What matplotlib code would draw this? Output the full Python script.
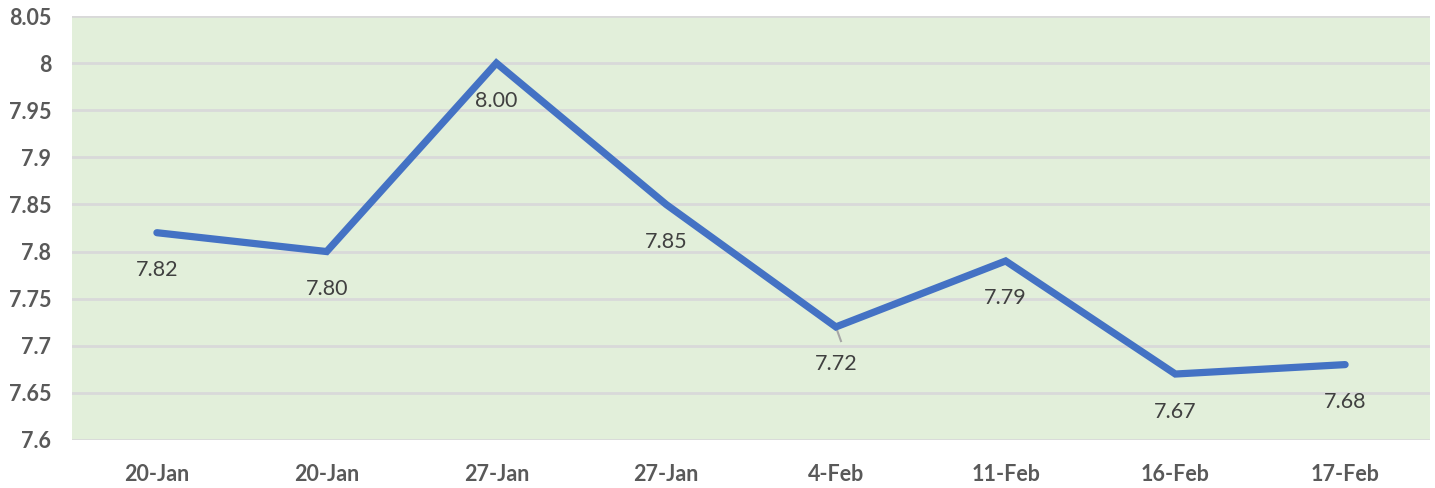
import numpy as np
import matplotlib.pyplot as plt

dates = ['20-Jan', '20-Jan', '27-Jan', '27-Jan', '4-Feb', '11-Feb', '16-Feb', '17-Feb']
values = [7.82, 7.80, 8.00, 7.85, 7.72, 7.79, 7.67, 7.68]
yticks = [7.6, 7.65, 7.7, 7.75, 7.8, 7.85, 7.9, 7.95, 8, 8.05]
ytick_labels = ['7.6', '7.65', '7.7', '7.75', '7.8', '7.85', '7.9', '7.95', '8', '8.05']

plt.rcParams['font.family'] = ['Lato', 'DejaVu Sans']

fig = plt.figure(figsize=(14.35, 4.88), dpi=100)
ax = fig.add_axes([0.0502, 0.0984, 0.9463, 0.8688])
ax.set_facecolor('#E2EFDA')

x = np.arange(len(values))
ax.plot(x, values, color='#4472C4', lw=5.2, solid_capstyle='round', solid_joinstyle='miter', zorder=3)

for xi, v in zip(x, values):
    ax.annotate('%.2f' % v, (xi, v), xytext=(0, -27), textcoords='offset points',
                ha='center', va='center', fontsize=15.5, color='#404040', zorder=4)

# small leader line at the 4-Feb label
ax.plot([4, 4.03], [values[4], values[4] - 0.015], color='#A6A6A6', lw=1.5, zorder=2)

ax.set_xlim(-0.5, len(values) - 0.5)
ax.set_ylim(7.6, 8.05)
ax.set_yticks(yticks)
ax.set_yticklabels(ytick_labels)
ax.set_xticks(x)
ax.set_xticklabels(dates)
ax.grid(axis='y', color='#D9D9D9', lw=2)
ax.set_axisbelow(True)
for s in ax.spines.values():
    s.set_visible(False)
ax.tick_params(length=0, labelsize=15.5, colors='#595959')
ax.tick_params(axis='y', pad=15)
ax.tick_params(axis='x', pad=17)
for lab in ax.get_xticklabels() + ax.get_yticklabels():
    lab.set_fontweight('bold')

plt.savefig('out.png', dpi=100, facecolor='white')
